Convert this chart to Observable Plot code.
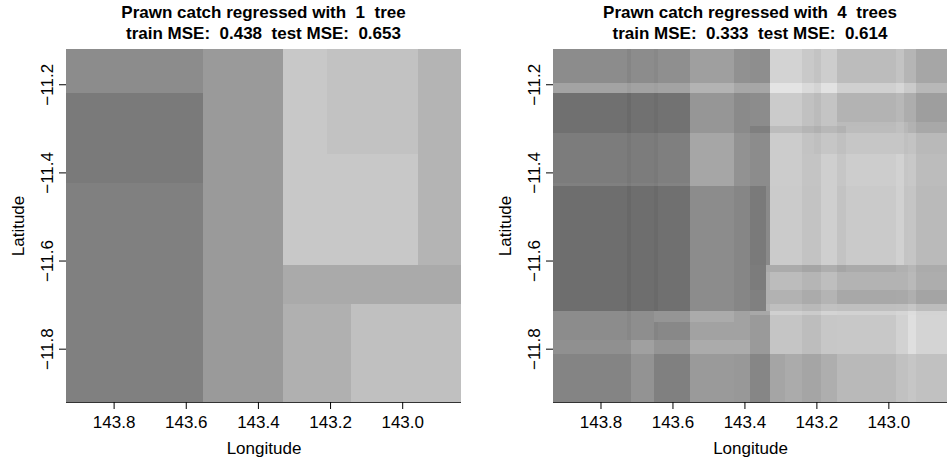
<!DOCTYPE html>
<html>
<head>
<meta charset="utf-8">
<script src="https://cdn.jsdelivr.net/npm/d3@7"></script>
<script src="https://cdn.jsdelivr.net/npm/@observablehq/plot@0.6"></script>
<style>
  body { margin: 0; background: #fff; font-family: "Liberation Sans", Arial, sans-serif; }
  #wrap { display: flex; width: 947px; height: 461px; overflow: hidden; }
  .panel { flex: none; }
  .title { font-weight: bold; font-size: 17px; line-height: 21px; text-align: center; white-space: pre;
           height: 46px; padding-top: 2px; box-sizing: border-box; color: #000; }
  .panel svg { display: block; overflow: visible; }
</style>
</head>
<body>
<div id="wrap"></div>
<script>
// ---------- shared axes ----------
const lonDomain = [142.837, 143.932];
const latDomain = [-11.921, -11.120];
const lonTicks = [143.8, 143.6, 143.4, 143.2, 143.0];
const latTicks = [-11.2, -11.4, -11.6, -11.8];

// ---------- panel 1: one tree (leaf rectangles, grey level 0-255) ----------
const oneTreeLonWest  = [143.932, 143.932, 143.932, 143.552, 143.330, 143.208, 143.208, 142.956, 143.330, 143.330, 143.142];
const oneTreeLonEast  = [143.552, 143.552, 143.552, 143.330, 143.208, 142.956, 142.956, 142.837, 142.837, 143.142, 142.837];
const oneTreeLatNorth = [-11.120, -11.220, -11.423, -11.120, -11.120, -11.120, -11.358, -11.120, -11.610, -11.699, -11.699];
const oneTreeLatSouth = [-11.220, -11.423, -11.921, -11.921, -11.610, -11.358, -11.610, -11.610, -11.699, -11.921, -11.921];
const oneTreeLevel    = [140, 122, 128, 154, 200, 194, 200, 180, 170, 176, 192];

// ---------- panel 2: four trees (grid of cells, grey level 0-255) ----------
const fourTreeLonBreaks = [143.932, 143.727, 143.715, 143.651, 143.640, 143.552, 143.430, 143.385, 143.341, 143.330,
                           143.286, 143.241, 143.208, 143.186, 143.142, 143.119, 142.978, 142.956, 142.945, 142.923, 142.837];
const fourTreeLatBreaks = [-11.120, -11.197, -11.220, -11.286, -11.295, -11.311, -11.358, -11.423, -11.431, -11.610,
                           -11.626, -11.667, -11.699, -11.715, -11.724, -11.740, -11.781, -11.813, -11.921];
const fourTreeLevels = [
  [140,133,140,136,143,159,145,142,142,211,211,201,195,205,188,188,195,181,181,166],
  [163,157,162,159,163,179,167,166,166,228,228,218,212,226,208,208,214,202,202,184],
  [112,106,113,109,114,150,138,140,140,203,203,193,187,196,179,179,184,173,173,158],
  [112,106,113,109,114,150,138,140,140,203,203,193,187,196,187,187,192,184,178,168],
  [112,106,113,109,114,150,138,127,127,188,188,181,176,184,178,188,192,184,178,168],
  [124,119,124,121,127,166,146,140,140,204,204,195,191,198,192,198,198,192,195,185],
  [124,119,124,121,127,166,146,140,140,204,204,196,196,207,198,205,210,198,200,188],
  [128,123,128,125,131,166,146,140,140,204,204,196,196,207,198,205,210,198,200,188],
  [110,104,110,106,112,140,134,122,138,203,203,195,195,207,195,202,209,196,197,186],
  [110,104,110,106,112,140,134,124,170,171,171,165,165,174,165,170,176,176,182,171],
  [110,104,110,106,112,140,134,124,176,188,188,181,181,190,179,179,179,179,185,173],
  [110,104,110,106,112,140,134,128,176,178,178,171,171,180,168,168,169,169,175,164],
  [110,104,110,106,112,140,134,128,180,191,191,185,185,193,191,191,192,192,198,188],
  [140,135,142,149,149,171,162,168,168,208,208,203,203,212,210,210,214,214,221,211],
  [140,135,142,149,149,171,162,154,154,197,197,189,189,199,200,200,210,210,223,212],
  [140,135,142,132,136,162,162,154,154,197,197,189,189,199,200,200,210,210,223,212],
  [144,144,160,148,148,171,171,154,154,197,197,189,189,199,200,200,210,210,223,212],
  [132,132,147,128,128,154,152,134,134,165,171,165,165,174,185,185,193,193,198,193]
];

const titles = [
  "Prawn catch regressed with  1  tree\ntrain MSE:  0.438  test MSE:  0.653",
  "Prawn catch regressed with  4  trees\ntrain MSE:  0.333  test MSE:  0.614"
];

// ---------- build tables ----------
const oneTreeCells = oneTreeLevel.map((level, i) => ({
  x1: oneTreeLonWest[i], x2: oneTreeLonEast[i], y1: oneTreeLatNorth[i], y2: oneTreeLatSouth[i], level
}));
const fourTreeCells = [];
fourTreeLevels.forEach((row, i) => row.forEach((level, j) => fourTreeCells.push({
  x1: fourTreeLonBreaks[j], x2: fourTreeLonBreaks[j + 1],
  y1: fourTreeLatBreaks[i], y2: fourTreeLatBreaks[i + 1], level
})));

const fmt = d3.format(".1f");

function panel(cells, title, width, marginLeft, marginRight) {
  const div = document.createElement("div");
  div.className = "panel";
  div.style.width = width + "px";
  const t = document.createElement("div");
  t.className = "title";
  t.style.paddingLeft = marginLeft + "px";
  t.style.paddingRight = marginRight + "px";
  t.textContent = title;
  div.appendChild(t);
  const svg = Plot.plot({
    width, height: 415,
    marginTop: 3, marginBottom: 59, marginLeft, marginRight,
    style: { fontFamily: "Liberation Sans, Arial, sans-serif", fontSize: "17px", background: "white", color: "black", overflow: "visible" },
    x: { domain: lonDomain, reverse: true },
    y: { domain: latDomain },
    color: { type: "linear", domain: [0, 255], range: ["black", "white"], interpolate: "rgb" },
    marks: [
      Plot.rect(cells, { x1: "x1", x2: "x2", y1: "y1", y2: "y2", fill: "level", inset: 0, shapeRendering: "crispEdges" }),
      Plot.ruleY([latDomain[0]], { stroke: "#333", strokeWidth: 1 }),
      Plot.axisX(lonTicks, { tickSize: 7, tickPadding: 6, tickFormat: fmt, label: "Longitude",
                             labelAnchor: "center", labelArrow: "none", labelOffset: 51 }),
      // tick marks only
      Plot.axisY(latTicks, { tickSize: 7, tickFormat: () => "", label: null }),
      // rotated tick labels and axis title
      Plot.axisY(latTicks, { tickSize: 0, tickPadding: 19, tickFormat: fmt, rotate: -90, textAnchor: "middle",
                             label: "Latitude", labelAnchor: "center", labelArrow: "none", labelOffset: 55 })
    ]
  });
  div.appendChild(svg);
  return div;
}

const wrap = document.getElementById("wrap");
wrap.appendChild(panel(oneTreeCells, titles[0], 473, 66, 12));
wrap.appendChild(panel(fourTreeCells, titles[1], 474, 80, 0));
</script>
</body>
</html>
